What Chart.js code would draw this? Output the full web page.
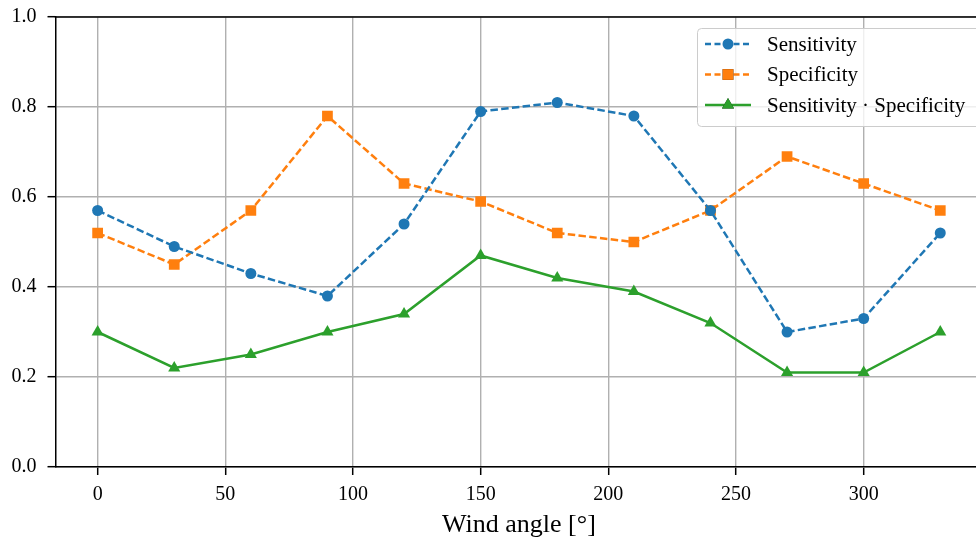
<!DOCTYPE html>
<html>
<head>
<meta charset="utf-8">
<script src="https://cdn.jsdelivr.net/npm/chart.js@4.4.1/dist/chart.umd.min.js"></script>
<style>
  html, body { margin: 0; padding: 0; background: #fff; overflow: hidden; }
  #wrap { position: absolute; left: 0; top: 0; width: 990px; height: 541px; }
</style>
</head>
<body>
<div id="wrap"><canvas id="chart"></canvas></div>
<script>
// wind angles in degrees
const angles = [0, 30, 60, 90, 120, 150, 180, 210, 240, 270, 300, 330];
const sensitivity = [0.57, 0.49, 0.43, 0.38, 0.54, 0.79, 0.81, 0.78, 0.57, 0.30, 0.33, 0.52];
const specificity = [0.52, 0.45, 0.57, 0.78, 0.63, 0.59, 0.52, 0.50, 0.57, 0.69, 0.63, 0.57];
const product = [0.30, 0.22, 0.25, 0.30, 0.34, 0.47, 0.42, 0.39, 0.32, 0.21, 0.21, 0.30];
const xTicks = [0, 50, 100, 150, 200, 250, 300];
const yTicks = [0, 0.2, 0.4, 0.6, 0.8, 1.0];
const seriesLabels = ["Sensitivity", "Specificity", "Sensitivity \u00b7 Specificity"];

const FONT = "'Liberation Serif', 'DejaVu Serif', serif";

function pts(values) {
  return angles.map((a, i) => ({ x: a, y: values[i] }));
}

// top spine + matplotlib style legend
const framePlugin = {
  id: "frame",
  afterDraw(chart) {
    const { ctx, chartArea } = chart;
    ctx.save();
    ctx.strokeStyle = "#000";
    ctx.lineWidth = 1.5;
    ctx.beginPath();
    ctx.moveTo(chartArea.left - 0.75, chartArea.top);
    ctx.lineTo(chartArea.right, chartArea.top);
    ctx.stroke();

    // legend box
    const bx = 697, by = 28, bw = 300, bh = 98;
    ctx.fillStyle = "rgba(255,255,255,0.8)";
    ctx.strokeStyle = "#cccccc";
    ctx.lineWidth = 1;
    ctx.beginPath();
    ctx.roundRect(bx + 0.5, by + 0.5, bw, bh, 4);
    ctx.fill();
    ctx.stroke();

    chart.data.datasets.forEach((ds, i) => {
      const y = 44 + i * 30.5;
      ctx.strokeStyle = ds.borderColor;
      ctx.lineWidth = ds.borderWidth;
      ctx.setLineDash(ds.borderDash ? [6, 3.5] : []);
      ctx.beginPath();
      ctx.moveTo(705, y);
      ctx.lineTo(751, y);
      ctx.stroke();
      ctx.setLineDash([]);
      Chart.helpers.drawPoint(ctx, {
        pointStyle: ds.pointStyle,
        radius: ds.pointRadius,
        rotation: 0,
        borderWidth: 0
      }, 728, y);
      ctx.fillStyle = ds.backgroundColor;
      ctx.fill();
      ctx.fillStyle = "#000";
      ctx.font = "21px " + FONT;
      ctx.textBaseline = "middle";
      ctx.textAlign = "left";
      ctx.fillText(ds.label, 767, y + 1);
    });
    ctx.restore();
  }
};

new Chart(document.getElementById("chart"), {
  type: "line",
  data: {
    datasets: [
      {
        label: seriesLabels[0],
        data: pts(sensitivity),
        borderColor: "#1f77b4",
        backgroundColor: "#1f77b4",
        borderWidth: 2.5,
        borderDash: [7.5, 3.3],
        pointStyle: "circle",
        pointRadius: 5.5,
        pointBorderWidth: 0
      },
      {
        label: seriesLabels[1],
        data: pts(specificity),
        borderColor: "#ff7f0e",
        backgroundColor: "#ff7f0e",
        borderWidth: 2.5,
        borderDash: [7.5, 3.3],
        pointStyle: "rect",
        pointRadius: 7.6,
        pointBorderWidth: 0
      },
      {
        label: seriesLabels[2],
        data: pts(product),
        borderColor: "#2ca02c",
        backgroundColor: "#2ca02c",
        borderWidth: 2.5,
        pointStyle: "triangle",
        pointRadius: 7,
        pointBorderWidth: 0
      }
    ]
  },
  options: {
    responsive: true,
    maintainAspectRatio: false,
    animation: false,
    events: [],
    layout: { padding: { top: 17, right: 2.5, left: 0, bottom: 0 } },
    plugins: {
      legend: { display: false },
      tooltip: { enabled: false }
    },
    scales: {
      x: {
        type: "linear",
        min: -16.5,
        max: 346.5,
        afterBuildTicks: (s) => { s.ticks = xTicks.map((v) => ({ value: v })); },
        afterFit: (s) => { s.height = 74; s.paddingLeft = 0; s.paddingRight = 0; },
        grid: { color: "#b0b0b0", lineWidth: 1.4, tickLength: 8, tickColor: "#000", tickWidth: 1.5 },
        border: { display: true, color: "#000", width: 1.5 },
        ticks: {
          color: "#000",
          font: { family: FONT, size: 20 },
          padding: 8,
          maxRotation: 0,
          callback: (v) => String(v)
        },
        title: {
          display: true,
          text: "Wind angle [\u00b0]",
          color: "#000",
          font: { family: FONT, size: 26 },
          padding: { top: 0, bottom: 0 }
        }
      },
      y: {
        min: 0,
        max: 1,
        afterBuildTicks: (s) => { s.ticks = yTicks.map((v) => ({ value: v })); },
        afterFit: (s) => { s.width = 55.5; s.paddingTop = 0; s.paddingBottom = 0; },
        grid: { color: "#b0b0b0", lineWidth: 1.4, tickLength: 8, tickColor: "#000", tickWidth: 1.5 },
        border: { display: true, color: "#000", width: 1.5 },
        ticks: {
          color: "#000",
          font: { family: FONT, size: 20 },
          padding: 11,
          callback: (v) => v.toFixed(1)
        }
      }
    }
  },
  plugins: [framePlugin]
});
</script>
</body>
</html>
